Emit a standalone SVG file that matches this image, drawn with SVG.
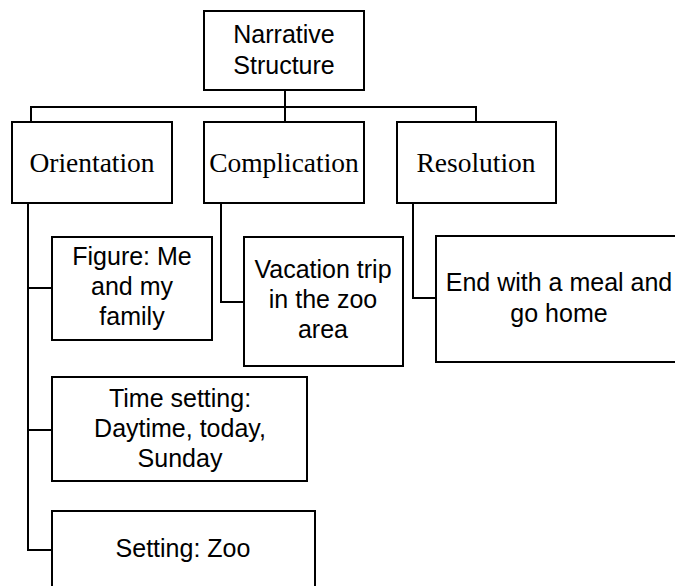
<svg xmlns="http://www.w3.org/2000/svg" width="675" height="586" viewBox="0 0 675 586">
<style>
.box{fill:#fff;stroke:#000;stroke-width:2}
.ln{fill:none;stroke:#000;stroke-width:2}
.s{font-family:"Liberation Sans",Arial,sans-serif;font-size:25px;text-anchor:middle;fill:#000}
.r{font-family:"Liberation Serif","Times New Roman",serif;font-size:27.5px;text-anchor:middle;fill:#000}
</style>
<rect width="675" height="586" fill="#fff"/>
<g id="connectors">
<path class="ln" d="M285,90 V122 M31,122 V107 H476 V122"/>
<path class="ln" d="M28,203 V550 H52 M28,288 H52 M28,430 H52"/>
<path class="ln" d="M221,203 V302 H244"/>
<path class="ln" d="M413,203 V298 H436"/>
</g>
<g id="narrative">
<rect class="box" x="204" y="11" width="160" height="79"/>
<text class="s" x="284" y="43">Narrative</text>
<text class="s" x="284" y="74">Structure</text>
</g>
<g id="orientation">
<rect class="box" x="12" y="122" width="160" height="81"/>
<text class="r" x="92" y="172">Orientation</text>
</g>
<g id="complication">
<rect class="box" x="204" y="122" width="160" height="81"/>
<text class="r" x="284" y="172">Complication</text>
</g>
<g id="resolution">
<rect class="box" x="397" y="122" width="159" height="81"/>
<text class="r" x="476" y="172">Resolution</text>
</g>
<g id="figure">
<rect class="box" x="52" y="237" width="160" height="103"/>
<text class="s" x="132" y="265">Figure: Me</text>
<text class="s" x="132" y="295">and my</text>
<text class="s" x="132" y="325">family</text>
</g>
<g id="vacation">
<rect class="box" x="244" y="237" width="159" height="129"/>
<text class="s" x="323" y="278">Vacation trip</text>
<text class="s" x="323" y="308">in the zoo</text>
<text class="s" x="323" y="338">area</text>
</g>
<g id="end">
<rect class="box" x="436" y="236" width="250" height="126"/>
<text class="s" x="559" y="291">End with a meal and</text>
<text class="s" x="559" y="322">go home</text>
</g>
<g id="time">
<rect class="box" x="52" y="377" width="255" height="104"/>
<text class="s" x="180" y="407">Time setting:</text>
<text class="s" x="180" y="437">Daytime, today,</text>
<text class="s" x="180" y="467">Sunday</text>
</g>
<g id="setting">
<rect class="box" x="52" y="511" width="263" height="90"/>
<text class="s" x="183" y="557">Setting: Zoo</text>
</g>
</svg>
